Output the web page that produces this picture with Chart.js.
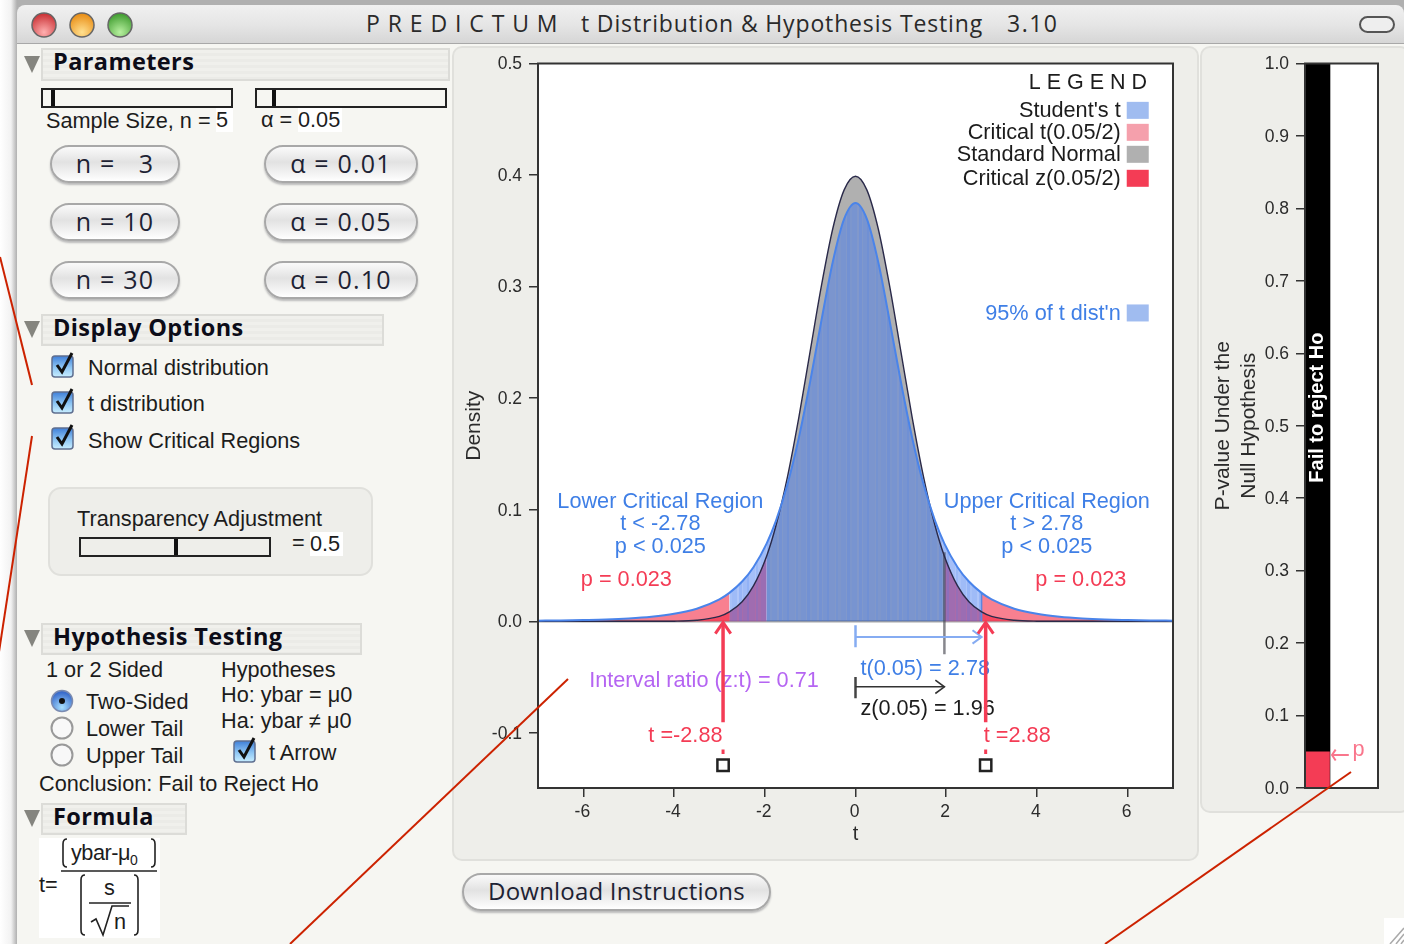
<!DOCTYPE html>
<html>
<head>
<meta charset="utf-8">
<title>t Distribution & Hypothesis Testing</title>
<script src="https://cdn.jsdelivr.net/npm/chart.js@4"></script>
<style>
  html, body { margin: 0; padding: 0; background: #fff; overflow: hidden; }
  #win { position: relative; width: 1404px; height: 944px; overflow: hidden; filter: blur(0.5px); background: linear-gradient(90deg, #fff 0, #f2f2f2 11px, #b0b0b0 17px); }
  #body { position: absolute; left: 17px; top: 44px; width: 1387px; height: 900px; background: #f6f6f2; }
  #bar { position: absolute; left: 17px; top: 5px; width: 1387px; height: 39px; border-radius: 8px 8px 0 0; background: linear-gradient(#f0f0f0, #e6e6e6 50%, #d6d6d6); border-bottom: 1px solid #a8a8a8; box-sizing: border-box; }
  .abs, .t, .h, .btn, .box { position: absolute; }
  .t { white-space: nowrap; font: 21.7px/24px "Liberation Sans", sans-serif; color: #1c1c1c; }
  .v { background: #fff; }
  .ttl { font: 23px/24px "Open Sans", sans-serif; color: #2a2a2a; }
  .h { left: 41px; box-sizing: border-box; background: repeating-linear-gradient(#f0f0ec 0 3px, #ebebe7 3px 6px); border: 2px solid #dcdcd8; font: bold 23.5px/23px "Open Sans", sans-serif; letter-spacing: .4px; color: #0c0c18; padding-left: 10px; }
  .tri { position: absolute; left: 24px; width: 0; height: 0; border-left: 8px solid transparent; border-right: 8px solid transparent; border-top: 17px solid #85857f; }
  .btn { box-sizing: border-box; height: 38px; border: 2px solid #a8a8a8; border-radius: 19px; background: linear-gradient(#fafafa, #e2e2e2 45%, #f4f4f4 80%, #fff); box-shadow: 0 2px 2px #bbb; font: 25px/32px "Open Sans", sans-serif; letter-spacing: 1.2px; color: #1d2233; text-align: center; white-space: pre; }
  .sl { position: absolute; box-sizing: border-box; height: 20px; border: 2px solid #222; }
  .sl i { position: absolute; top: 0; width: 4px; height: 16px; background: #111; }
  .box { background: #eeeeea; border: 2px solid #e0e0dc; box-sizing: border-box; }
  canvas { position: absolute; }
</style>
</head>
<body>
<div id="win">
  <div id="bar"></div>
  <div id="body"></div>

  <svg class="abs" style="left:0;top:0" width="1404" height="50">
    <defs>
      <radialGradient id="lr" cx=".5" cy=".8" r=".8"><stop offset="0" stop-color="#ffb0b0"/><stop offset="1" stop-color="#c82c30"/></radialGradient>
      <radialGradient id="ly" cx=".5" cy=".8" r=".8"><stop offset="0" stop-color="#ffe090"/><stop offset="1" stop-color="#e88a10"/></radialGradient>
      <radialGradient id="lg" cx=".5" cy=".8" r=".8"><stop offset="0" stop-color="#b8f0a0"/><stop offset="1" stop-color="#3c9a2c"/></radialGradient>
    </defs>
    <circle cx="44" cy="25" r="12" fill="url(#lr)" stroke="#666" stroke-width="1.5"/>
    <circle cx="82" cy="25" r="12" fill="url(#ly)" stroke="#666" stroke-width="1.5"/>
    <circle cx="120" cy="25" r="12" fill="url(#lg)" stroke="#666" stroke-width="1.5"/>
    <rect x="1360" y="17" width="34" height="15" rx="7.5" fill="#eee" stroke="#555" stroke-width="2"/>
  </svg>
  <div class="t ttl" style="left:366px;top:11px;letter-spacing:.95px">P R E D I C T U M</div>
  <div class="t ttl" style="left:581px;top:11px;letter-spacing:.85px">t Distribution &amp; Hypothesis Testing</div>
  <div class="t ttl" style="left:1007px;top:11px;letter-spacing:1.5px">3.10</div>

  <!-- left panel -->
  <div class="tri" style="top:56px"></div><div class="h" style="top:48px;width:409px;height:33px">Parameters</div>
  <div class="sl" style="left:41px;top:88px;width:192px"><i style="left:8px"></i></div>
  <div class="sl" style="left:255px;top:88px;width:192px"><i style="left:15px"></i></div>
  <div class="t" style="left:46px;top:109px">Sample Size, n = </div><div class="t v" style="left:216px;top:108px;width:17px">5</div>
  <div class="t" style="left:261px;top:108px">α = </div><div class="t v" style="left:298px;top:108px;padding-right:2px">0.05</div>
  <div class="btn" style="left:50px;top:145px;width:130px">n =   3</div>
  <div class="btn" style="left:50px;top:203px;width:130px">n = 10</div>
  <div class="btn" style="left:50px;top:261px;width:130px">n = 30</div>
  <div class="btn" style="left:264px;top:145px;width:154px">α = 0.01</div>
  <div class="btn" style="left:264px;top:203px;width:154px">α = 0.05</div>
  <div class="btn" style="left:264px;top:261px;width:154px">α = 0.10</div>

  <div class="tri" style="top:321px"></div><div class="h" style="top:314px;width:343px;height:32px">Display Options</div>
  <svg class="abs chk" style="left:50px;top:351px" width="26" height="28"></svg>
  <svg class="abs chk" style="left:50px;top:387px" width="26" height="28"></svg>
  <svg class="abs chk" style="left:50px;top:423px" width="26" height="28"></svg>
  <div class="t" style="left:88px;top:356px">Normal distribution</div>
  <div class="t" style="left:88px;top:392px">t distribution</div>
  <div class="t" style="left:88px;top:429px">Show Critical Regions</div>
  <div class="box" style="left:48px;top:487px;width:325px;height:89px;border-radius:13px"></div>
  <div class="t" style="left:77px;top:507px">Transparency Adjustment</div>
  <div class="sl" style="left:79px;top:537px;width:192px"><i style="left:93px"></i></div>
  <div class="t" style="left:292px;top:531px">= </div><div class="t v" style="left:310px;top:532px;padding:0 3px 0 0">0.5</div>

  <div class="tri" style="top:630px"></div><div class="h" style="top:623px;width:321px;height:32px">Hypothesis Testing</div>
  <div class="t" style="left:46px;top:658px">1 or 2 Sided</div>
  <div class="t" style="left:221px;top:658px">Hypotheses</div>
  <div class="t" style="left:221px;top:683px">Ho: ybar = μ0</div>
  <div class="t" style="left:221px;top:709px">Ha: ybar ≠ μ0</div>
  <svg class="abs" style="left:48px;top:686px" width="30" height="84">
    <defs><radialGradient id="rb" cx=".5" cy=".8" r=".7"><stop offset="0" stop-color="#a8e0ff"/><stop offset="1" stop-color="#3a6ccc"/></radialGradient></defs>
    <circle cx="14" cy="15" r="10.5" fill="url(#rb)" stroke="#7a8ab0" stroke-width="1.5"/><circle cx="14" cy="15" r="3" fill="#111"/>
    <circle cx="14" cy="42" r="10.5" fill="#f8f8f8" stroke="#999" stroke-width="2"/>
    <circle cx="14" cy="69" r="10.5" fill="#f8f8f8" stroke="#999" stroke-width="2"/>
  </svg>
  <div class="t" style="left:86px;top:690px">Two-Sided</div>
  <div class="t" style="left:86px;top:717px">Lower Tail</div>
  <div class="t" style="left:86px;top:744px">Upper Tail</div>
  <svg class="abs chk" style="left:232px;top:736px" width="26" height="28"></svg>
  <div class="t" style="left:269px;top:741px">t Arrow</div>
  <div class="t" style="left:39px;top:772px">Conclusion: Fail to Reject Ho</div>

  <div class="tri" style="top:810px"></div><div class="h" style="top:803px;width:146px;height:32px">Formula</div>
  <div class="abs" style="left:39px;top:838px;width:121px;height:100px;background:#fff"></div>
  <div class="t" style="left:39px;top:873px">t=</div>
  <div class="t" style="left:71px;top:841px;letter-spacing:-.5px">ybar-μ<span style="font-size:14px;position:relative;top:5px">0</span></div>
  <div class="t" style="left:104px;top:876px">s</div>
  <div class="t" style="left:114px;top:910px">n</div>
  <svg class="abs" style="left:39px;top:838px" width="121" height="100" fill="none" stroke="#222" stroke-width="1.6">
    <path d="M28 1q-4 0-4 5v18q0 5 4 5M112 1q4 0 4 5v18q0 5-4 5"/>
    <path d="M22 33H118" />
    <path d="M46 37q-4 0-4 5v50q0 5 4 5M95 37q4 0 4 5v50q0 5-4 5"/>
    <path d="M50 65H92"/>
    <path d="M52 84l5-3 7 16 9-29H90"/>
  </svg>

  <!-- group boxes with the two charts -->
  <div class="box" style="left:452px;top:46px;width:747px;height:815px;border-radius:10px"></div>
  <div class="box" style="left:1200px;top:46px;width:210px;height:767px;border-radius:10px"></div>
  <canvas id="densityChart" style="left:452px;top:46px" width="746" height="814"></canvas>
  <canvas id="pvalueChart" style="left:1200px;top:46px" width="204" height="766"></canvas>

  <div class="btn" style="left:462px;top:873px;width:309px;font-size:24px;letter-spacing:.2px">Download Instructions</div>
  <svg class="abs" style="left:1384px;top:918px" width="20" height="26"><rect width="20" height="26" fill="#fff"/><path d="M6 26L20 10M12 26L20 16M17 26L20 22" stroke="#aaa" stroke-width="1.5"/></svg>

  <!-- red callout strokes sitting on top of the screenshot -->
  <svg class="abs" style="left:0;top:0;pointer-events:none" width="1404" height="944" fill="none" stroke="#cc2200" stroke-width="2">
    <path d="M0 257L32 385"/><path d="M32 436L-1 652"/><path d="M568 679L290 944"/><path d="M1351 772L1105 944"/>
  </svg>
</div>

<script>
// values
var tGrid = [-7, -6.5, -6, -5.5, -5, -4.5, -4, -3.5, -3, -2.78, -2.5, -2.25, -1.96, -1.75, -1.5, -1.25, -1, -0.75, -0.5, -0.25, 0, 0.25, 0.5, 0.75, 1, 1.25, 1.5, 1.75, 1.96, 2.25, 2.5, 2.78, 3, 3.5, 4, 4.5, 5, 5.5, 6, 6.5, 7];
var tDensity = [0.0006, 0.0008, 0.0012, 0.0017, 0.0026, 0.0041, 0.0067, 0.0113, 0.0197, 0.0255, 0.0357, 0.0485, 0.0697, 0.0905, 0.1229, 0.1644, 0.2147, 0.2699, 0.3223, 0.3607, 0.3750, 0.3607, 0.3223, 0.2699, 0.2147, 0.1644, 0.1229, 0.0905, 0.0697, 0.0485, 0.0357, 0.0255, 0.0197, 0.0113, 0.0067, 0.0041, 0.0026, 0.0017, 0.0012, 0.0008, 0.0006];
var normalDensity = [0, 0, 0, 0, 0, 0, 0.0001, 0.0009, 0.0044, 0.0084, 0.0175, 0.0317, 0.0584, 0.0863, 0.1295, 0.1826, 0.2420, 0.3011, 0.3521, 0.3867, 0.3989, 0.3867, 0.3521, 0.3011, 0.2420, 0.1826, 0.1295, 0.0863, 0.0584, 0.0317, 0.0175, 0.0084, 0.0044, 0.0009, 0.0001, 0, 0, 0, 0, 0, 0];
var xTicks = [-6, -4, -2, 0, 2, 4, 6];
var yTicks = [-0.1, 0, 0.1, 0.2, 0.3, 0.4, 0.5];
var pTicks = [0, 0.1, 0.2, 0.3, 0.4, 0.5, 0.6, 0.7, 0.8, 0.9, 1];
var tCrit = 2.78;
var zCrit = 1.96;
var tMarkLeft = -2.92;
var tMarkRight = 2.87;
var pValue = 0.05;
var failBar = 1;

var BLUE = '#3f7fe6', RED = '#f43c55', INK = '#2b2b2b';

// the faint vertical banding of the t fill
function stripedBlue() {
  var widths = [5, 2, 3, 1, 4, 2, 6, 1, 2, 3, 5, 1, 3, 2];
  var alphas = [.5, .42, .54, .44, .5, .57, .47, .41, .52, .45, .5, .43, .55, .46];
  var cv = document.createElement('canvas');
  cv.width = 40; cv.height = 4;
  var c = cv.getContext('2d'), x = 0;
  widths.forEach(function (w, i) {
    c.fillStyle = 'rgba(64,120,240,' + alphas[i] + ')';
    c.fillRect(x, 0, w, 4);
    x += w;
  });
  return c.createPattern(cv, 'repeat');
}

function band(ys, lo, hi) {
  return tGrid.map(function (x, i) { return { x: x, y: ys[i] }; })
    .filter(function (p) { return p.x >= lo && p.x <= hi; });
}
function fillSet(data, color) {
  return { data: data, backgroundColor: color, borderWidth: 0, fill: 'origin', pointRadius: 0, cubicInterpolationMode: 'monotone' };
}
function curve(data, color, width) {
  return { data: data, borderColor: color, borderWidth: width, fill: false, pointRadius: 0, cubicInterpolationMode: 'monotone' };
}
function path(pts, color, width) {
  return { data: pts.map(function (p) { return { x: p[0], y: p[1] }; }), borderColor: color, borderWidth: width, fill: false, pointRadius: 0, tension: 0 };
}

// arrows and brackets under the axis
function redArrow(x) {
  return [
    path([[x, -0.0905], [x, -0.002]], RED, 3.5),
    path([[x - 0.17, -0.011], [x, -0.001], [x + 0.17, -0.011]], RED, 3),
    path([[x, -0.115], [x, -0.119]], RED, 3)
  ];
}
var sets = [
  path([[-7, 0], [7, 0]], '#a8a8a8', 2.5),
  fillSet(band(normalDensity, -zCrit, zCrit), 'rgba(97,97,97,.5)'),
  fillSet(band(normalDensity, -7, -zCrit), 'rgba(244,60,85,.8)'),
  fillSet(band(normalDensity, zCrit, 7), 'rgba(244,60,85,.8)'),
  fillSet(band(tDensity, -tCrit, tCrit), stripedBlue()),
  fillSet(band(tDensity, -7, -tCrit), 'rgba(244,60,85,.65)'),
  fillSet(band(tDensity, tCrit, 7), 'rgba(244,60,85,.65)'),
  path([[zCrit, -0.0295], [zCrit, 0.062]], 'rgba(70,70,80,.65)', 2.5),
  path([[tCrit, 0], [tCrit, 0.0255]], '#5a86e0', 1.5),
  curve(band(normalDensity, -7, 7), '#2a2a4a', 1.4),
  curve(band(tDensity, -7, 7), '#4a84ea', 2),
  path([[0, -0.0036], [0, -0.0233]], '#86acf2', 2.5),
  path([[0, -0.014], [tCrit, -0.014]], '#86acf2', 2),
  path([[tCrit - 0.2, -0.008], [tCrit, -0.014], [tCrit - 0.2, -0.02]], '#86acf2', 2),
  path([[0, -0.0498], [0, -0.069]], '#444', 2.5),
  path([[0, -0.0587], [zCrit, -0.0587]], '#333', 1.6),
  path([[zCrit - 0.2, -0.0527], [zCrit, -0.0587], [zCrit - 0.2, -0.0647]], '#333', 1.6)
].concat(redArrow(tMarkLeft), redArrow(tMarkRight));
sets.push({ data: [{ x: tMarkLeft, y: -0.129 }, { x: tMarkRight, y: -0.129 }], showLine: false, pointStyle: 'rect', pointRadius: 8, pointBackgroundColor: '#fff', pointBorderColor: '#222', pointBorderWidth: 2.5 });
// first in the list is painted first
sets.forEach(function (s, i) { s.order = sets.length - i; });

var LABEL_FONT = '21.7px "Liberation Sans", sans-serif';
var plotLabels = [
  ['Lower Critical Region', -4.28, 0.1082, BLUE, 'center'],
  ['t < -2.78', -4.28, 0.0877, BLUE, 'center'],
  ['p < 0.025', -4.28, 0.0671, BLUE, 'center'],
  ['p = 0.023', -5.03, 0.0376, RED, 'center'],
  ['Upper Critical Region', 4.24, 0.1082, BLUE, 'center'],
  ['t > 2.78', 4.24, 0.0877, BLUE, 'center'],
  ['p < 0.025', 4.24, 0.0671, BLUE, 'center'],
  ['p = 0.023', 4.99, 0.0376, RED, 'center'],
  ["95% of t dist'n", 5.87, 0.2764, BLUE, 'right'],
  ['Interval ratio (z:t) = 0.71', -5.85, -0.0528, '#b565f2', 'left'],
  ['t(0.05) = 2.78', 0.13, -0.042, BLUE, 'left'],
  ['z(0.05) = 1.96', 0.13, -0.0778, '#1c1c1c', 'left'],
  ['t =-2.88', -2.91, -0.102, RED, 'right'],
  ['t =2.88', 2.85, -0.102, RED, 'left'],
  ["Student's t", 5.87, 0.458, '#1c1c1c', 'right'],
  ['Critical t(0.05/2)', 5.87, 0.4383, '#1c1c1c', 'right'],
  ['Standard Normal', 5.87, 0.4186, '#1c1c1c', 'right'],
  ['Critical z(0.05/2)', 5.87, 0.3971, '#1c1c1c', 'right']
];
var swatches = [
  [0.458, '#a0bcf0'], [0.4383, '#f5a0ac'], [0.4186, '#b0b0b0'], [0.3971, RED], [0.2764, '#a0bcf0']
];

var frame = {
  id: 'frame',
  beforeDatasetsDraw: function (chart) {
    var a = chart.chartArea;
    chart.ctx.fillStyle = '#fff';
    chart.ctx.fillRect(a.left, a.top, a.right - a.left, a.bottom - a.top);
  },
  afterDraw: function (chart) {
    var a = chart.chartArea, c = chart.ctx;
    c.save();
    c.strokeStyle = '#333';
    c.lineWidth = 2;
    c.strokeRect(a.left, a.top, a.right - a.left, a.bottom - a.top);
    c.restore();
  }
};

var densityText = {
  id: 'densityText',
  beforeDatasetsDraw: function (chart) {
    var c = chart.ctx, sx = chart.scales.x, sy = chart.scales.y;
    c.save();
    c.textBaseline = 'middle';
    c.font = LABEL_FONT;
    plotLabels.forEach(function (l) {
      c.fillStyle = l[3];
      c.textAlign = l[4];
      c.fillText(l[0], sx.getPixelForValue(l[1]) - 1, sy.getPixelForValue(l[2]) + 1);
    });
    swatches.forEach(function (s) {
      c.fillStyle = s[1];
      c.fillRect(sx.getPixelForValue(5.98), sy.getPixelForValue(s[0]) - 8.5, 22, 17);
    });
    c.fillStyle = '#1c1c1c';
    c.textAlign = 'left';
    c.font = '21.5px "Liberation Sans", sans-serif';
    c.fillText('L E G E N D', sx.getPixelForValue(3.82), sy.getPixelForValue(0.4826));
    c.restore();
  }
};

function tickOpts(list, fmt, shift) {
  return {
    afterBuildTicks: function (s) { s.ticks = list.map(function (v) { return { value: v }; }); },
    ticks: { color: INK, font: { family: '"Liberation Sans", sans-serif', size: 17.5 }, padding: 7, labelOffset: shift, maxRotation: 0, callback: fmt, autoSkip: false },
    grid: { display: true, drawOnChartArea: false, drawTicks: true, tickLength: 9, color: '#333', lineWidth: 1.5 },
    border: { color: '#333', width: 2 }
  };
}
var xOpts = tickOpts(xTicks, function (v) { return String(v); }, -1);
xOpts.type = 'linear'; xOpts.min = -7; xOpts.max = 7;
xOpts.afterFit = function (s) { s.height = 72; };
xOpts.ticks.padding = 5;
xOpts.title = { display: true, text: 't', color: INK, font: { family: '"Liberation Sans", sans-serif', size: 20 }, padding: { top: 0, bottom: 14 } };
var yOpts = tickOpts(yTicks, function (v) { return v.toFixed(1); }, 1);
yOpts.min = -0.1494; yOpts.max = 0.5;
yOpts.afterFit = function (s) { s.width = 86; };
yOpts.title = { display: true, text: 'Density', color: INK, font: { family: '"Liberation Sans", sans-serif', size: 21 }, padding: { top: 10, bottom: 0 } };

new Chart(document.getElementById('densityChart'), {
  type: 'line',
  data: { datasets: sets },
  options: {
    responsive: false,
    animation: false,
    layout: { padding: { left: 0, top: 16, right: 25, bottom: 0 } },
    plugins: { legend: { display: false }, tooltip: { enabled: false } },
    scales: { x: xOpts, y: yOpts }
  },
  plugins: [frame, densityText]
});

var pOpts = tickOpts(pTicks, function (v) { return v.toFixed(1); }, 1);
pOpts.min = 0; pOpts.max = 1;
pOpts.afterFit = function (s) { s.width = 105; };
pOpts.title = { display: true, text: ['P-value Under the', 'Null Hypothesis'], color: INK, font: { family: '"Liberation Sans", sans-serif', size: 21, lineHeight: 1.2 }, padding: { top: 11, bottom: 0 } };

var pText = {
  id: 'pText',
  afterDatasetsDraw: function (chart) {
    var c = chart.ctx, sx = chart.scales.x, sy = chart.scales.y;
    c.save();
    c.translate(sx.getPixelForValue(0.171), sy.getPixelForValue(0.525));
    c.rotate(-Math.PI / 2);
    c.font = 'bold 20px "Liberation Sans", sans-serif';
    c.fillStyle = '#fff';
    c.textAlign = 'center';
    c.textBaseline = 'middle';
    c.fillText('Fail to reject Ho', 0, 0);
    c.restore();
    c.save();
    c.font = LABEL_FONT;
    c.fillStyle = '#f9768c';
    c.textBaseline = 'middle';
    c.fillText('p', sx.getPixelForValue(0.65), sy.getPixelForValue(0.0525));
    c.restore();
  }
};

new Chart(document.getElementById('pvalueChart'), {
  type: 'bar',
  data: {
    datasets: [
      { data: [{ x: 0.171, y: pValue }], backgroundColor: RED, barThickness: 24, order: 2 },
      { data: [{ x: 0.171, y: failBar }], backgroundColor: '#000', barThickness: 25, order: 3 },
      { type: 'line', data: [{ x: 0.6, y: 0.0455 }, { x: 0.37, y: 0.0455 }], borderColor: '#f9768c', borderWidth: 2, pointRadius: 0, order: 1 },
      { type: 'line', data: [{ x: 0.42, y: 0.053 }, { x: 0.37, y: 0.0455 }, { x: 0.42, y: 0.038 }], borderColor: '#f9768c', borderWidth: 2, pointRadius: 0, order: 1 }
    ]
  },
  options: {
    responsive: false,
    animation: false,
    layout: { padding: { left: 0, top: 16, right: 26, bottom: 24 } },
    plugins: { legend: { display: false }, tooltip: { enabled: false } },
    datasets: { bar: { grouped: false } },
    scales: {
      x: { type: 'linear', min: 0, max: 1, offset: false, display: false },
      y: pOpts
    }
  },
  plugins: [frame, pText]
});

// aqua checkboxes
document.querySelectorAll('.chk').forEach(function (s, i) {
  s.innerHTML = '<defs><linearGradient id="cg' + i + '" x1="0" y1="0" x2="0" y2="1"><stop offset="0" stop-color="#3f7fd8"/><stop offset=".55" stop-color="#8ec6f4"/><stop offset="1" stop-color="#c8eeff"/></linearGradient></defs>' +
    '<rect x="2" y="5" width="21" height="21" rx="3" fill="url(#cg' + i + ')" stroke="#5f6f90" stroke-width="1.5"/>' +
    '<path d="M7 14l5 7L22 2" fill="none" stroke="#111" stroke-width="3"/>';
});
</script>
</body>
</html>
